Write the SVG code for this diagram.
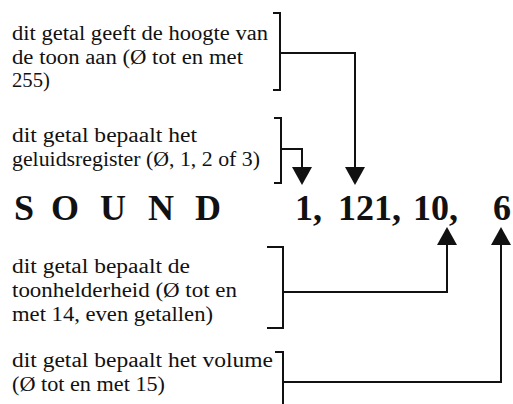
<svg xmlns="http://www.w3.org/2000/svg" width="513" height="404" viewBox="0 0 513 404">
<defs>
<style>
.lbl{font-family:"Liberation Serif","Times New Roman",serif;font-size:20px;fill:#111}
.big{font-family:"Liberation Serif","Times New Roman",serif;font-size:36px;font-weight:bold;fill:#111}
.ln{fill:none;stroke:#111;stroke-width:2;stroke-linejoin:miter}
</style>
<marker id="arr" viewBox="0 0 18 20" refX="2" refY="10" markerWidth="18" markerHeight="20" markerUnits="userSpaceOnUse" orient="auto">
<path d="M0,0 L18,10 L0,20 z" fill="#111"/>
</marker>
</defs>
<rect width="513" height="404" fill="#fff"/>
<g id="command">
<text class="big" text-anchor="middle" y="220"><tspan x="24">S</tspan><tspan x="65">O</tspan><tspan x="113">U</tspan><tspan x="161">N</tspan><tspan x="208">D</tspan></text>
<text class="big" y="220"><tspan x="295">1,</tspan><tspan x="338">121,</tspan><tspan x="413">10,</tspan><tspan x="493">6</tspan></text>
</g>
<g id="note-pitch">
<text class="lbl" x="12" y="40" textLength="256" lengthAdjust="spacingAndGlyphs">dit getal geeft de hoogte van</text>
<text class="lbl" x="12" y="63.5" textLength="231" lengthAdjust="spacingAndGlyphs">de toon aan (Ø tot en met</text>
<text class="lbl" x="12" y="87" textLength="38" lengthAdjust="spacingAndGlyphs">255)</text>
<polyline class="ln" points="273,13 280,13 280,90 273,90"/>
</g>
<g id="note-register">
<text class="lbl" x="12" y="142" textLength="185" lengthAdjust="spacingAndGlyphs">dit getal bepaalt het</text>
<text class="lbl" x="12" y="166" textLength="248" lengthAdjust="spacingAndGlyphs">geluidsregister (Ø, 1, 2 of 3)</text>
<polyline class="ln" points="274,118 281,118 281,183 274,183"/>
</g>
<g id="note-brightness">
<text class="lbl" x="12" y="273" textLength="178" lengthAdjust="spacingAndGlyphs">dit getal bepaalt de</text>
<text class="lbl" x="12" y="297" textLength="225" lengthAdjust="spacingAndGlyphs">toonhelderheid (Ø tot en</text>
<text class="lbl" x="12" y="321" textLength="201" lengthAdjust="spacingAndGlyphs">met 14, even getallen)</text>
<polyline class="ln" points="267,247 283,247 283,328 267,328"/>
</g>
<g id="note-volume">
<text class="lbl" x="12" y="367" textLength="261" lengthAdjust="spacingAndGlyphs">dit getal bepaalt het volume</text>
<text class="lbl" x="12" y="391" textLength="153" lengthAdjust="spacingAndGlyphs">(Ø tot en met 15)</text>
<polyline class="ln" points="275,352 283,352 283,404"/>
</g>
<g id="connectors">
<path class="ln" d="M280,53 H355 V169" marker-end="url(#arr)"/>
<path class="ln" d="M281,149 H302 V169" marker-end="url(#arr)"/>
<path class="ln" d="M283,292 H447 V243" marker-end="url(#arr)"/>
<path class="ln" d="M283,382 H501 V243" marker-end="url(#arr)"/>
</g>
</svg>
